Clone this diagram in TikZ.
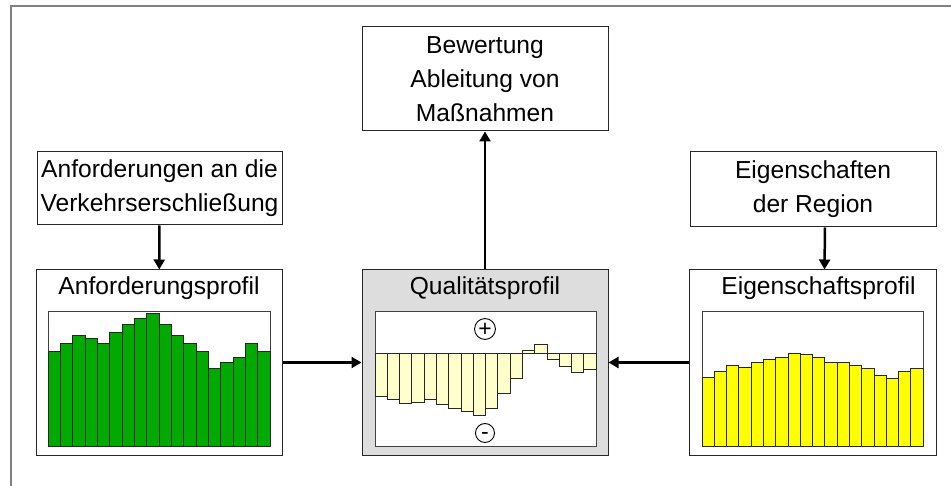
\documentclass[tikz,border=0pt]{standalone}
\usepackage{fontspec}
\setmainfont{Liberation Sans}
\usetikzlibrary{arrows.meta}
\definecolor{barGreen}{RGB}{0,170,0}
\definecolor{barYellow}{RGB}{255,255,0}
\definecolor{barPale}{RGB}{255,255,204}
\definecolor{boxGray}{RGB}{221,221,221}
\definecolor{frameGray}{RGB}{128,128,128}
\tikzset{
  box/.style={draw=black!85, rectangle, line width=1pt, inner sep=0pt, align=center},
  chart/.style={draw=black!75, line width=0.9pt, fill=white},
  bar/.style={draw=black!85, line width=0.8pt},
  sign/.style={circle, draw, line width=0.9pt, minimum size=19pt, inner sep=0pt, text depth=0pt, font=\fontsize{23}{23}\selectfont}
}
\begin{document}
\begin{tikzpicture}[x=1pt, y=-1pt, >={Triangle[length=10pt,width=11pt]}, font=\fontsize{24.6}{34}\selectfont]
\useasboundingbox (0,0) rectangle (951,486);
\draw[frameGray, line width=1.5pt] (951,6) -- (11,6) -- (11,486);

        \node(B)[box, minimum width=246pt, minimum height=104pt] at (485,79){Bewertung\\Ableitung von\\Maßnahmen};
        \node(A)[box, minimum width=245pt, minimum height=73pt] at (159.5,188.5){Anforderungen an die\\Verkehrserschließung};
        \node(E)[box, minimum width=246pt, minimum height=75pt] at (813,189.5){Eigenschaften\\der Region};

        % Profile
        \node(A1)[box, minimum width=246pt, minimum height=185pt] at (159,362.5){};
        \node(Q1)[box, fill=boxGray, minimum width=246pt, minimum height=185pt] at (485,362.5){};
        \node(E1)[box, minimum width=247pt, minimum height=185pt] at (812.5,362.5){};
        \node(A2) at (159,288){Anforderungsprofil};
        \node(Q2) at (485,288){Qualitätsprofil};
        \node(E2) at (818.5,288){Eigenschaftsprofil};

        \draw[chart] (48,311) rectangle (270,446);
        \draw[chart] (375,311) rectangle (596,446);
        \draw[chart] (702,311) rectangle (923,446);

        \foreach \h [count=\i from 0] in {94.3,102.7,110.7,108,102.7,114,122,127.3,132.7,122,110.7,102.7,94.7,77.7,83.3,88.7,102.7,94.3}
            \draw[bar, fill=barGreen] ({48+12.33*\i},446) rectangle ++(12.33,-\h);
        \foreach \h [count=\i from 0] in {68.7,74.7,80.7,78.7,83.3,86.7,88.7,92.7,92,88.7,83.3,83.3,80.3,77.3,71,67.7,74.7,77.3}
            \draw[bar, fill=barYellow] ({702+12.28*\i},446) rectangle ++(12.28,-\h);
        \foreach \d [count=\i from 0] in {43.3,46.7,50.7,49.7,46.7,51.7,55.7,58.3,62.3,55.7,40.7,25.7,-2.7,-8.3,6.7,13.3,19.7,16.3}
            \draw[bar, fill=barPale] ({375+12.28*\i},353) rectangle ++(12.28,\d);

        \node(P)[sign, text height=16pt] at (485,329){+};
        \node(M)[sign, text height=12.5pt] at (485,433){-};

\draw[->, line width=2.5pt](A)--(A1);
\draw[->, line width=2.5pt]([xshift=12pt]E.south)--([xshift=12pt]E1.north);
\draw[->, line width=2.5pt](Q1)--(B);
\draw[->, line width=2.5pt](A1)--(Q1);
\draw[->, line width=2.5pt](E1)--(Q1);
    \end{tikzpicture}
\end{document}
